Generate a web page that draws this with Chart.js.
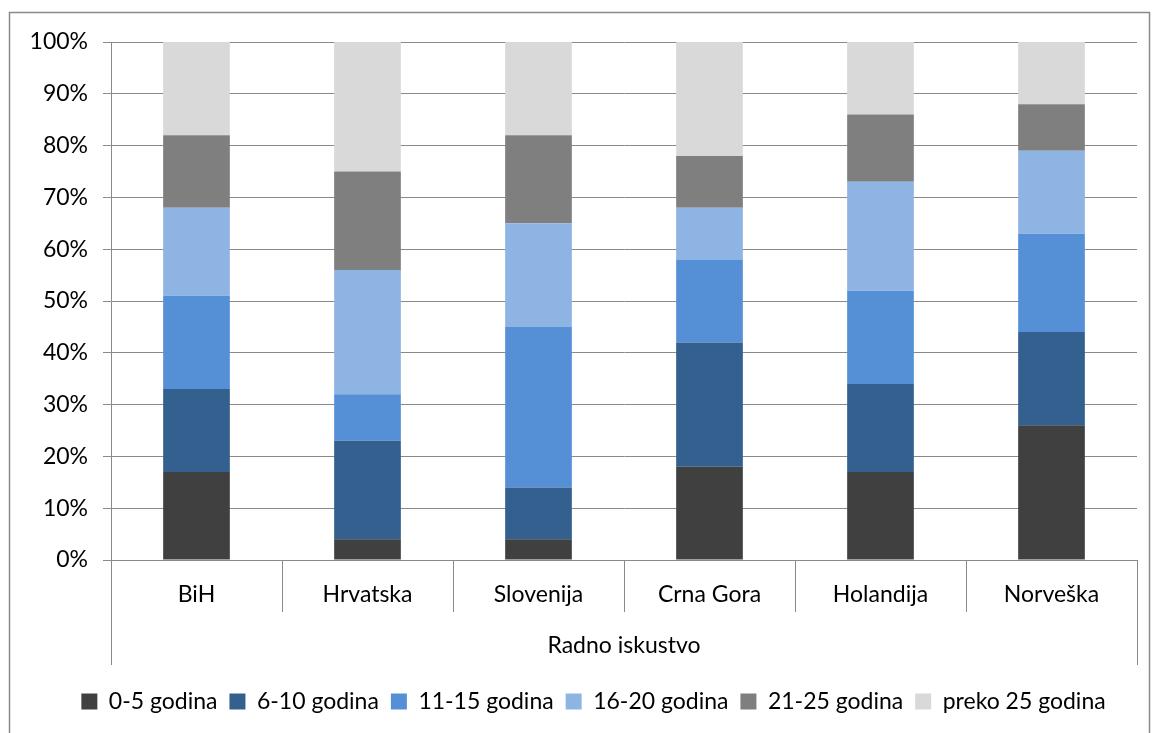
<!DOCTYPE html>
<html>
<head>
<meta charset="utf-8">
<script src="https://cdn.jsdelivr.net/npm/chart.js"></script>
<style>
  html, body { margin: 0; padding: 0; background: #fff; }
  #wrap { width: 1152px; height: 733px; position: relative; }
</style>
</head>
<body>
<div id="wrap"><canvas id="chart"></canvas></div>
<script>
// Data
const categories = ['BiH', 'Hrvatska', 'Slovenija', 'Crna Gora', 'Holandija', 'Norveška'];
const seriesNames = ['0-5 godina', '6-10 godina', '11-15 godina', '16-20 godina', '21-25 godina', 'preko 25 godina'];
const g0_5   = [17, 4, 4, 18, 17, 26];
const g6_10  = [16, 19, 10, 24, 17, 18];
const g11_15 = [18, 9, 31, 16, 18, 19];
const g16_20 = [17, 24, 20, 10, 21, 16];
const g21_25 = [14, 19, 17, 10, 13, 9];
const gOver25 = [18, 25, 18, 22, 14, 12];
const yTicks = [0, 10, 20, 30, 40, 50, 60, 70, 80, 90, 100];

const colors = ['#404040', '#34608f', '#5590d6', '#8eb4e3', '#7f7f7f', '#d9d9d9'];
const values = [g0_5, g6_10, g11_15, g16_20, g21_25, gOver25];

const FONT = 'Lato, "Open Sans", sans-serif';
const FSIZE = 23;

// Outer frame + category dividers under the x axis
const framePlugin = {
    id: 'frame',
    afterLayout(chart) {
        // legend sits a bit right of centre in the original
        chart.legend.left += 25;
        chart.legend.right += 25;
    },
    beforeDraw(chart) {
        const ctx = chart.ctx;
        ctx.save();
        ctx.strokeStyle = '#8a8a8a';
        ctx.lineWidth = 1.5;
        ctx.strokeRect(9.5, 12.5, chart.width - 12, chart.height + 10);
        ctx.restore();
    },
    afterDraw(chart) {
        const ctx = chart.ctx;
        const x = chart.scales.x;
        const bottom = chart.chartArea.bottom;
        ctx.save();
        ctx.strokeStyle = '#8a8a8a';
        ctx.lineWidth = 1;
        for (let i = 0; i <= categories.length; i++) {
            const px = Math.round(x.getPixelForValue(i - 0.5)) + 0.5;
            const outer = (i === 0 || i === categories.length);
            ctx.beginPath();
            ctx.moveTo(px, bottom);
            ctx.lineTo(px, bottom + (outer ? 105 : 52));
            ctx.stroke();
        }
        ctx.restore();
    }
};

new Chart(document.getElementById('chart'), {
    type: 'bar',
    data: {
        labels: categories,
        datasets: seriesNames.map((name, i) => ({
            label: name,
            data: values[i],
            backgroundColor: colors[i],
            borderWidth: 0,
            barPercentage: 0.39,
            categoryPercentage: 1
        }))
    },
    options: {
        responsive: true,
        maintainAspectRatio: false,
        animation: false,
        layout: { padding: { top: 42, right: 15, bottom: 10, left: 0 } },
        plugins: {
            tooltip: { enabled: false },
            legend: {
                position: 'bottom',
                labels: {
                    boxWidth: 16,
                    boxHeight: 16,
                    padding: 12,
                    color: '#000',
                    font: { family: FONT, size: FSIZE }
                }
            }
        },
        scales: {
            x: {
                stacked: true,
                offset: true,
                grid: { display: false, drawTicks: false },
                border: { color: '#8a8a8a', width: 1 },
                ticks: {
                    color: '#000',
                    padding: 21,
                    font: { family: FONT, size: FSIZE }
                },
                title: {
                    display: true,
                    text: 'Radno iskustvo',
                    color: '#000',
                    padding: { top: 22, bottom: 19 },
                    font: { family: FONT, size: FSIZE }
                },
                afterFit(scale) { scale.height = 118; }
            },
            y: {
                stacked: true,
                min: 0,
                max: 100,
                afterBuildTicks(scale) { scale.ticks = yTicks.map(v => ({ value: v })); },
                grid: { color: '#8a8a8a', lineWidth: 1, tickLength: 8 },
                border: { color: '#8a8a8a', width: 1 },
                ticks: {
                    color: '#000',
                    padding: 15,
                    font: { family: FONT, size: FSIZE },
                    callback: v => v + '%'
                },
                afterFit(scale) { scale.width = 111; }
            }
        }
    },
    plugins: [framePlugin]
});
</script>
</body>
</html>
